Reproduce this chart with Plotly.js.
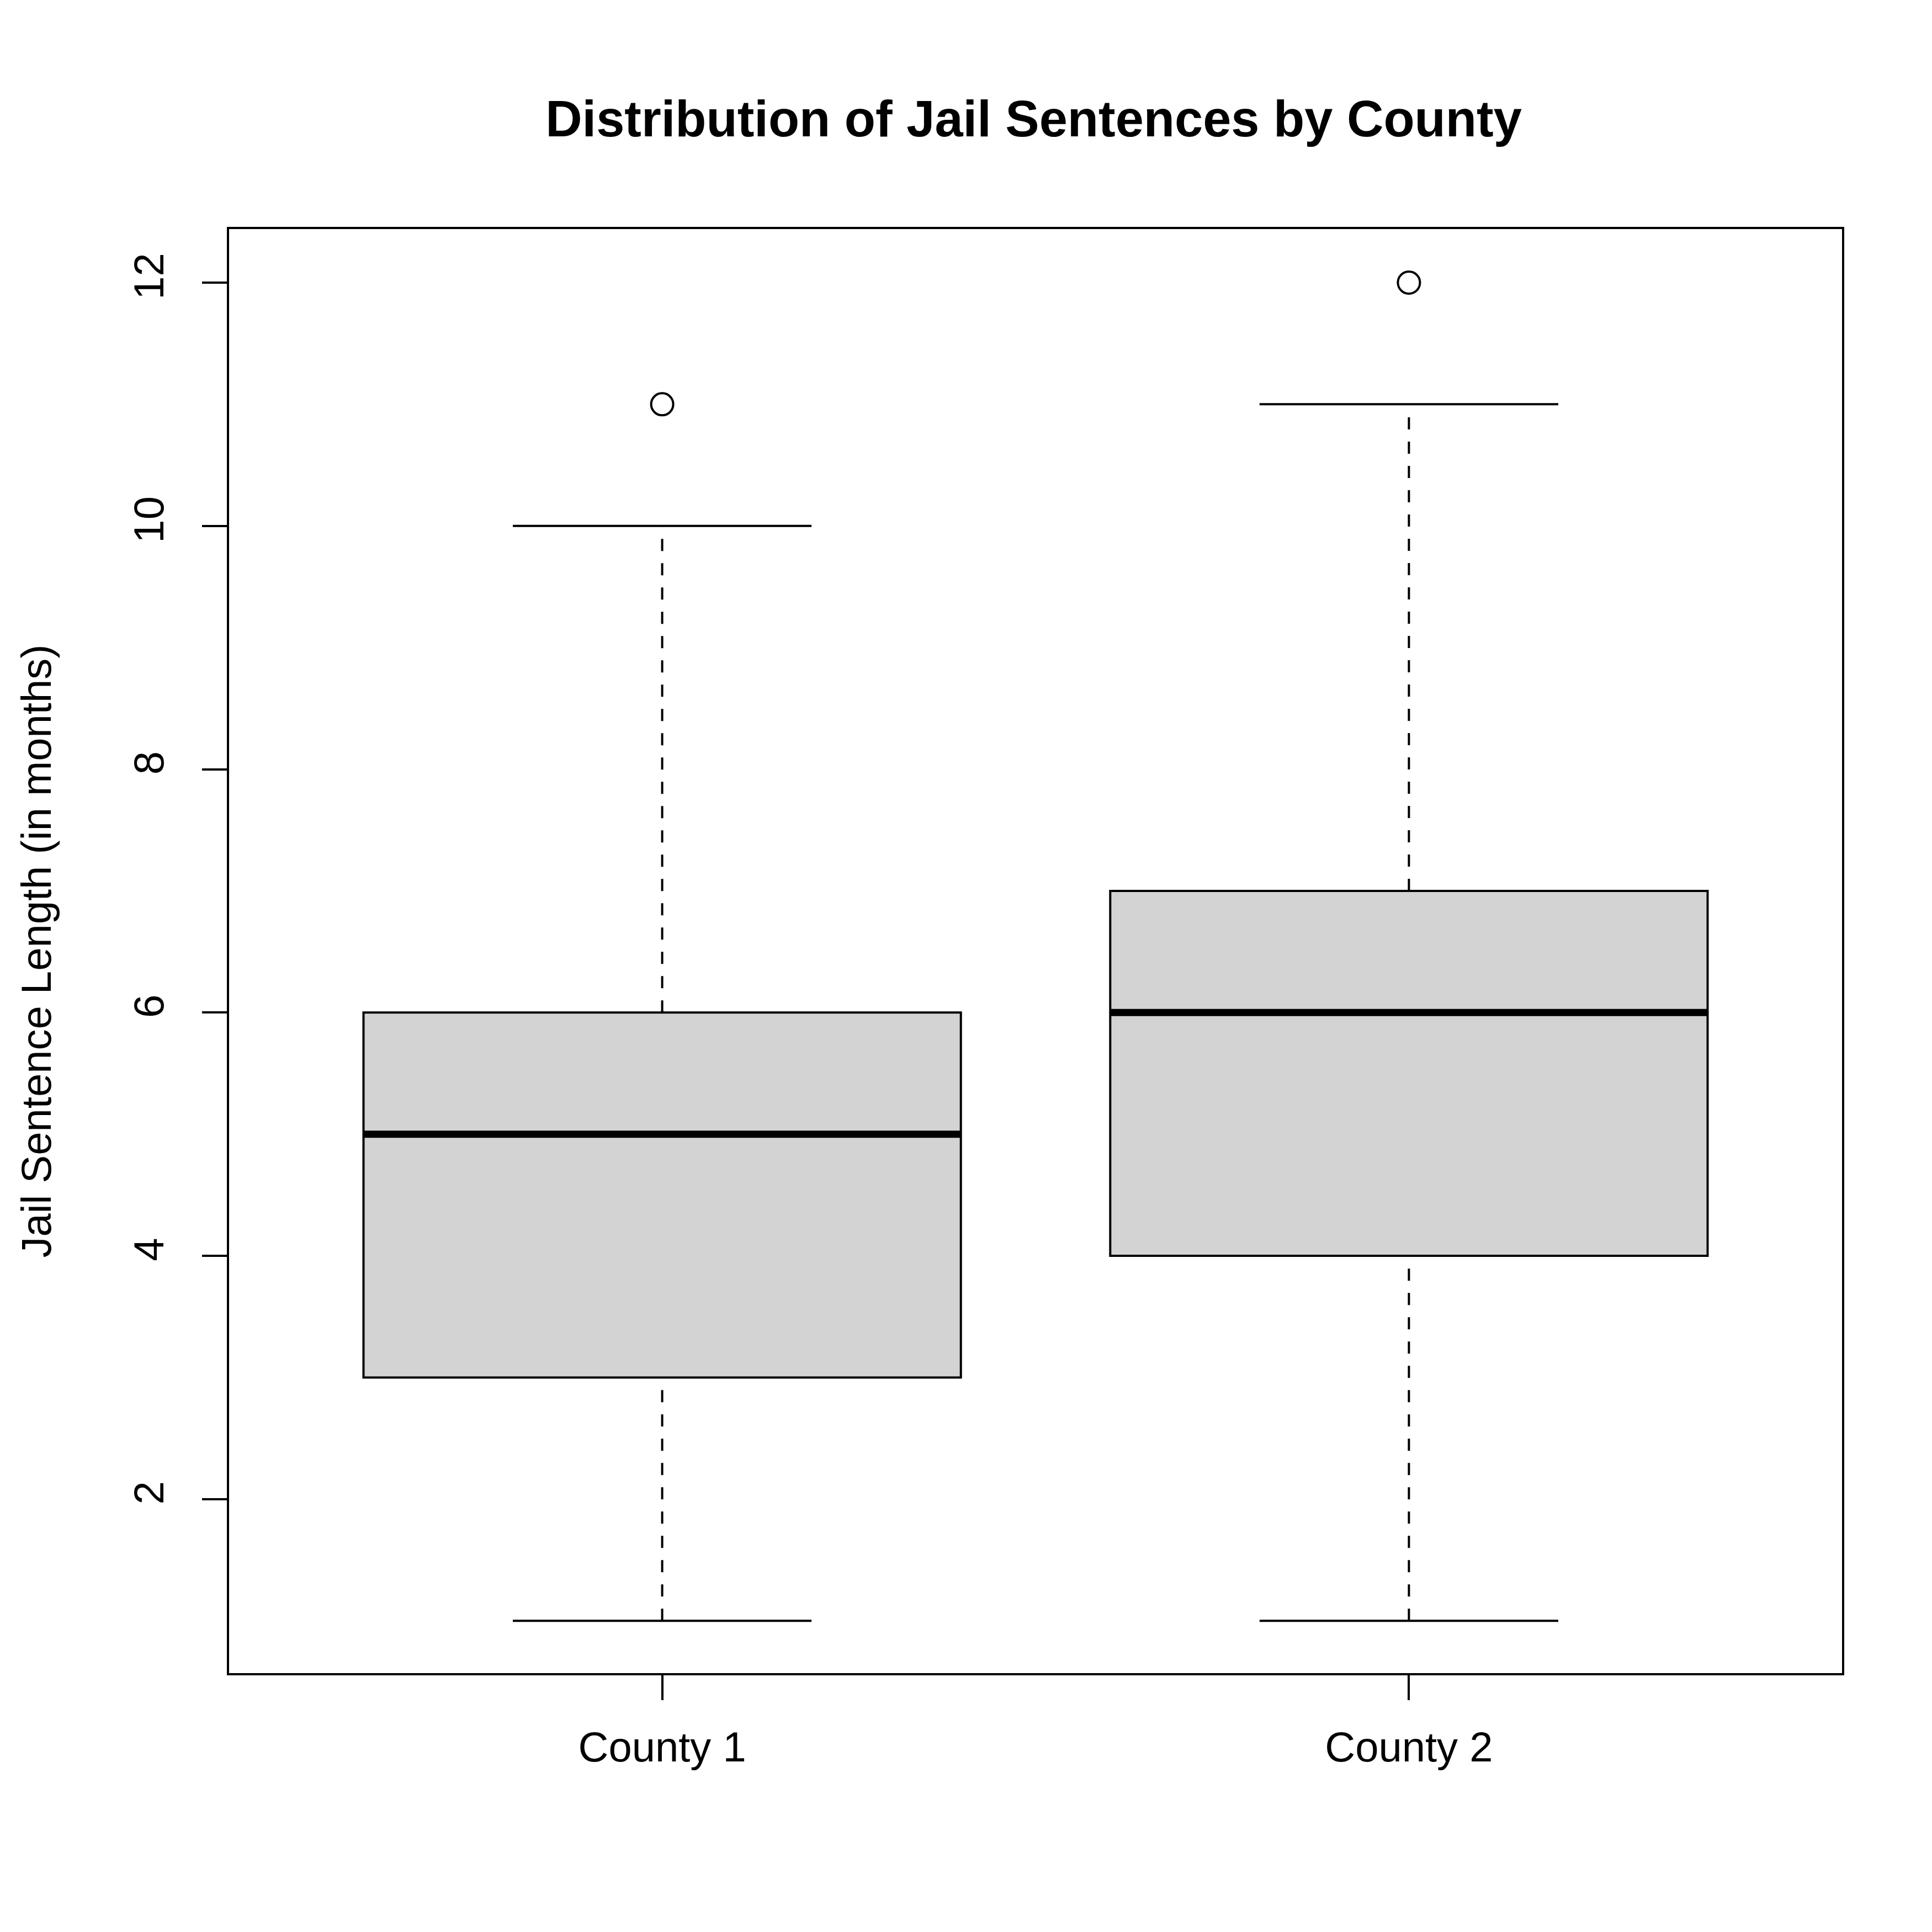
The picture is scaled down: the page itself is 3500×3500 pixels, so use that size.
<!DOCTYPE html>
<html>
<head>
<meta charset="utf-8">
<script src="https://cdn.plot.ly/plotly-3.0.1.min.js"></script>
<style>body{margin:0;background:#fff}</style>
</head>
<body>
<div id="chart" style="width:3500px;height:3500px"></div>
<script>
const counties = ["County 1", "County 2"];
const mins = [1, 1];
const q1s = [3, 4];
const medians = [5, 6];
const q3s = [6, 7];
const maxs = [10, 11];
const outliers = [[11], [12]];

const boxHalf = 0.4;
const capHalf = 0.2;
const shapes = [];
counties.forEach((c, i) => {
  const x = i + 1;
  const line = { color: "black", width: 4 };
  const dashed = { color: "black", width: 4, dash: "22px,22px" };
  // whiskers
  shapes.push({ type: "line", x0: x, x1: x, y0: mins[i], y1: q1s[i], line: dashed });
  shapes.push({ type: "line", x0: x, x1: x, y0: q3s[i], y1: maxs[i], line: dashed });
  // caps
  shapes.push({ type: "line", x0: x - capHalf, x1: x + capHalf, y0: mins[i], y1: mins[i], line });
  shapes.push({ type: "line", x0: x - capHalf, x1: x + capHalf, y0: maxs[i], y1: maxs[i], line });
  // box
  shapes.push({ type: "rect", x0: x - boxHalf, x1: x + boxHalf, y0: q1s[i], y1: q3s[i], fillcolor: "#d3d3d3", line });
  // median
  shapes.push({ type: "line", x0: x - boxHalf, x1: x + boxHalf, y0: medians[i], y1: medians[i], line: { color: "black", width: 13 } });
});

const outX = [], outY = [];
outliers.forEach((arr, i) => arr.forEach((v) => { outX.push(i + 1); outY.push(v); }));

const font = { family: "Liberation Sans, Arial, sans-serif", color: "black", size: 76 };

Plotly.newPlot("chart", [
  {
    x: outX, y: outY, type: "scatter", mode: "markers",
    marker: { symbol: "circle-open", size: 40, color: "black", line: { width: 4 } },
    hoverinfo: "skip",
  },
], {
  width: 3500, height: 3500,
  paper_bgcolor: "white", plot_bgcolor: "white",
  margin: { l: 415, r: 163, t: 415, b: 469 },
  showlegend: false,
  font,
  title: {
    text: "<b>Distribution of Jail Sentences by County</b>",
    font: { ...font, size: 92 },
    x: 0.535, xanchor: "center", y: 1 - 215 / 3500, yanchor: "middle",
  },
  xaxis: {
    range: [0.42, 2.58], tickvals: [1, 2], ticktext: counties,
    showgrid: false, zeroline: false,
    showline: true, mirror: true, linecolor: "black", linewidth: 4,
    ticks: "outside", ticklen: 45, tickwidth: 4, tickcolor: "black",
    ticklabelstandoff: 20,
    tickfont: font,
  },
  yaxis: {
    range: [0.57, 12.44], tickvals: [2, 4, 6, 8, 10, 12],
    tickangle: -90,
    showgrid: false, zeroline: false,
    showline: true, mirror: true, linecolor: "black", linewidth: 4,
    ticks: "outside", ticklen: 45, tickwidth: 4, tickcolor: "black",
    ticklabelstandoff: 40,
    tickfont: font,
    title: { text: "Jail Sentence Length (in months)", font, standoff: 110 },
  },
  shapes,
}, { displayModeBar: false });
</script>
</body>
</html>
